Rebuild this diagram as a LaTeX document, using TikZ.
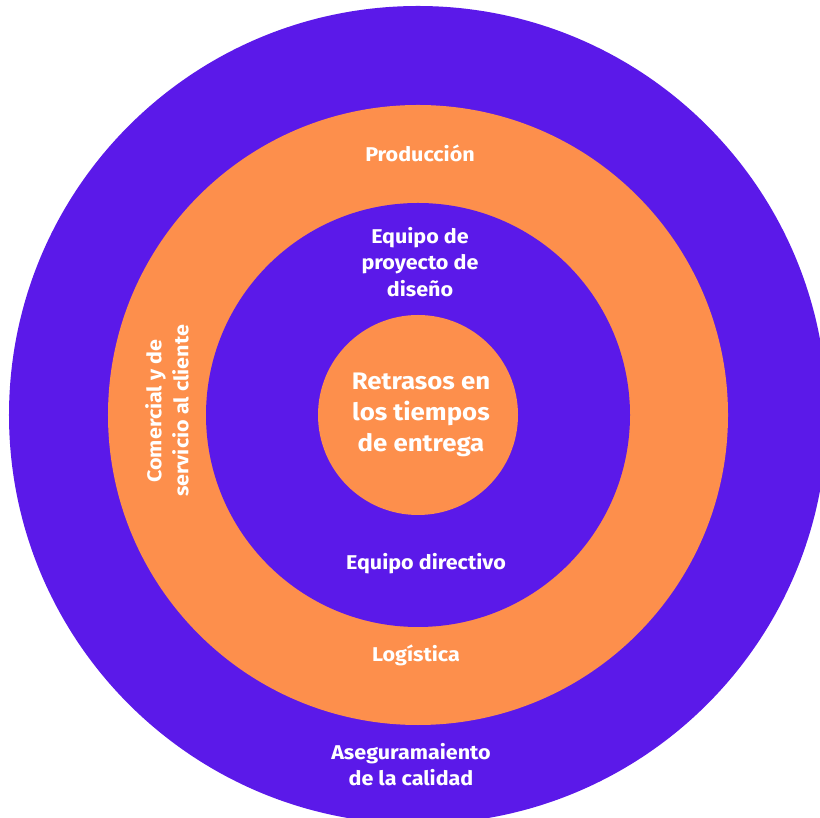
\documentclass[tikz,border=0pt]{standalone}
\usepackage{fontspec}
\setmainfont{Fira Sans}[FakeStretch=1.08]
\definecolor{violeta}{HTML}{5B19E9}
\definecolor{naranja}{HTML}{FD8F4C}
\tikzset{
  lbl/.style={text=white, align=center, font=\bfseries\fontsize{20}{27}\selectfont},
  lblbig/.style={lbl, font=\bfseries\fontsize{24}{31}\selectfont}
}
\begin{document}
\begin{tikzpicture}[x=1bp,y=1bp]
    \useasboundingbox (0,0) rectangle (820,818);
    \clip (0,0) rectangle (820,818);
    \coordinate (o) at (418,403);

    % rings, from the outside in
    \fill[violeta] (o) circle (409bp);
    \fill[naranja] (o) circle (310bp);
    \fill[violeta] (o) circle (212bp);
    \fill[naranja] (o) circle (100bp);

    % labels
    \node[lblbig] (retraso) at (421,403) {Retrasos en\\los tiempos\\de entrega};
    \node[lbl] (diseno) at (420,556) {Equipo de\\proyecto de\\diseño};
    \node[lbl] (directivo) at (426,254) {Equipo directivo};
    \node[lbl] (produccion) at (420,665) {Producción};
    \node[lbl] (logistica) at (416,163) {Logística};
    \node[lbl, rotate=90] (comercial) at (167,407) {Comercial y de\\servicio al cliente};
    \node[lbl, font=\bfseries\fontsize{20}{26}\selectfont] (calidad) at (411,53) {Aseguramaiento\\de la calidad};
\end{tikzpicture}
\end{document}
